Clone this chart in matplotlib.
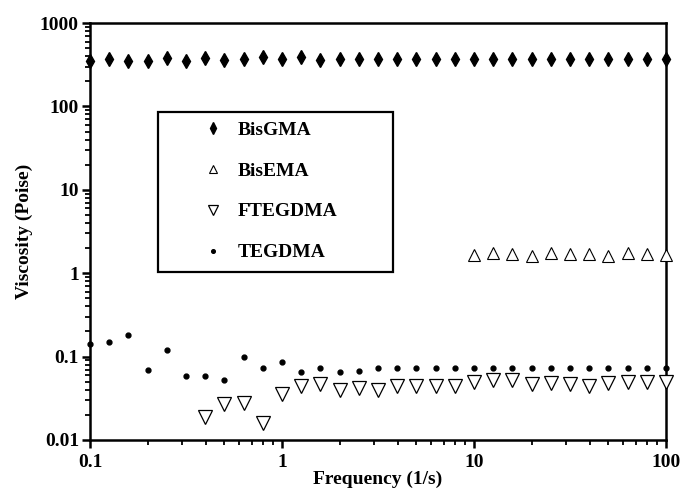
import matplotlib
matplotlib.use("Agg")
import matplotlib.pyplot as plt
import matplotlib.ticker as ticker
from matplotlib.patches import Rectangle

plt.rcParams['font.family'] = ['Liberation Serif', 'DejaVu Serif']
plt.rcParams['font.weight'] = 'bold'

# frequency points (1/s)
freq = [0.1, 0.126, 0.158, 0.2, 0.251, 0.316, 0.398, 0.501, 0.631, 0.794,
        1.0, 1.26, 1.58, 2.0, 2.51, 3.16, 3.98, 5.01, 6.31, 7.94,
        10.0, 12.6, 15.8, 20.0, 25.1, 31.6, 39.8, 50.1, 63.1, 79.4, 100.0]

# viscosity (Poise)
bisgma = [355, 375, 355, 355, 385, 355, 385, 360, 370, 390, 370, 390, 365, 370, 370,
          370, 370, 370, 370, 370, 370, 370, 370, 370, 370, 370, 370, 370, 370, 370, 375]
bisema_freq = freq[20:]
bisema = [1.65, 1.75, 1.72, 1.62, 1.75, 1.72, 1.72, 1.63, 1.75, 1.72, 1.64]
fteg_freq = freq[6:]
ftegdma = [0.019, 0.027, 0.028, 0.016, 0.036, 0.045, 0.047, 0.040, 0.042, 0.040,
           0.045, 0.045, 0.044, 0.045, 0.050, 0.052, 0.052, 0.047, 0.048, 0.047,
           0.045, 0.048, 0.050, 0.050, 0.050]
tegdma = [0.14, 0.15, 0.18, 0.07, 0.12, 0.058, 0.058, 0.053, 0.10, 0.074, 0.085,
          0.065, 0.073, 0.066, 0.068, 0.072, 0.072, 0.072, 0.072, 0.072, 0.072,
          0.072, 0.072, 0.072, 0.072, 0.072, 0.072, 0.072, 0.072, 0.072, 0.072]

fig = plt.figure(figsize=(6.82, 4.93), dpi=100)
ax = fig.add_axes([90/682, 1-440/493, 576/682, 417/493])

ax.plot(freq, bisgma, 'd', color='black', ms=7.5, label='BisGMA', clip_on=False, zorder=3)
ax.plot(bisema_freq, bisema, '^', mfc='white', mec='black', mew=0.8, ms=8,
        label='BisEMA', clip_on=False, zorder=3)
ax.plot(fteg_freq, ftegdma, 'v', mfc='white', mec='black', mew=0.9, ms=10,
        label='FTEGDMA', clip_on=False, zorder=3)
ax.plot(freq, tegdma, 'o', color='black', ms=3.5, label='TEGDMA', clip_on=False, zorder=3)

ax.set_xscale('log')
ax.set_yscale('log')
ax.set_xlim(0.1, 100)
ax.set_ylim(0.01, 1000)

fmt = ticker.FuncFormatter(lambda v, p: '%g' % v)
ax.xaxis.set_major_formatter(fmt)
ax.yaxis.set_major_formatter(fmt)
ax.xaxis.set_minor_formatter(ticker.NullFormatter())
ax.yaxis.set_minor_formatter(ticker.NullFormatter())
ax.xaxis.set_major_locator(ticker.LogLocator(base=10, numticks=10))
ax.xaxis.set_minor_locator(ticker.LogLocator(base=10, subs=range(2, 10), numticks=20))
ax.yaxis.set_major_locator(ticker.LogLocator(base=10, numticks=10))
ax.yaxis.set_minor_locator(ticker.LogLocator(base=10, subs=range(2, 10), numticks=20))

ax.tick_params(which='major', direction='out', length=6, width=1.8, labelsize=14, pad=2)
ax.tick_params(axis='x', which='major', pad=4)
ax.tick_params(which='minor', direction='out', length=3.5, width=1.3)
for s in ax.spines.values():
    s.set_linewidth(1.8)

ax.set_xlabel('Frequency (1/s)', fontsize=14, fontweight='bold', labelpad=0)
ax.set_ylabel('Viscosity (Poise)', fontsize=14, fontweight='bold', labelpad=5)

# legend box
ax.add_patch(Rectangle(((158-90)/576, (440-272)/417), 235/576, 160/417,
                       transform=ax.transAxes, fill=False, lw=1.6, ec='black', zorder=4))
leg = ax.legend(loc='upper left', bbox_to_anchor=((203-90)/576, (440-121)/417),
                frameon=False, borderpad=0, borderaxespad=0, handlelength=1.0,
                handletextpad=0.8, labelspacing=1.2, markerscale=0.75,
                prop={'size': 14, 'weight': 'bold'})

fig.savefig('out.png', dpi=100)
